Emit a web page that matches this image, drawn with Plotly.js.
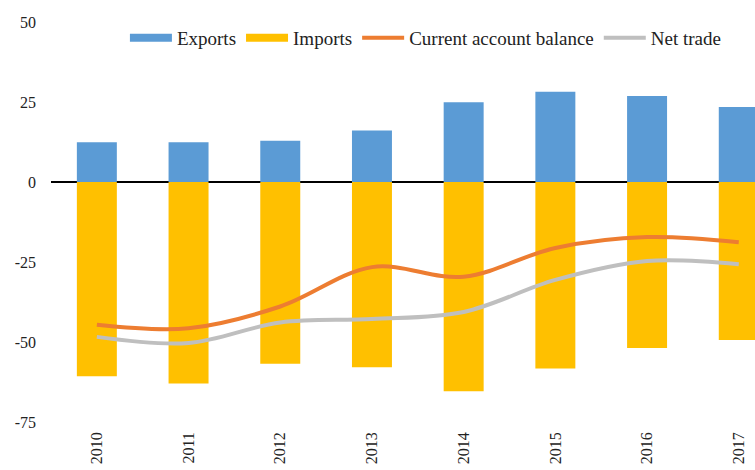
<!DOCTYPE html>
<html>
<head>
<meta charset="utf-8">
<script src="https://cdn.plot.ly/plotly-3.0.1.min.js"></script>
<style>
  html, body { margin: 0; padding: 0; background: #ffffff; }
  #chart { width: 755px; height: 470px; }
</style>
</head>
<body>
<div id="chart"></div>
<script>
// ---- data ----
const years = ["2010", "2011", "2012", "2013", "2014", "2015", "2016", "2017"];
const exportsVals = [12.4, 12.4, 12.9, 16.1, 24.9, 28.2, 26.9, 23.4];
const importsVals = [-60.7, -63.0, -56.8, -57.9, -65.4, -58.3, -51.9, -49.4];
const currentAccount = [-44.6, -45.7, -38.9, -26.6, -29.6, -20.6, -17.2, -18.8];
const netTrade = [-48.4, -50.3, -43.9, -42.8, -40.6, -30.6, -24.7, -25.7];
const yTickVals = [-75, -50, -25, 0, 25, 50];
const yTickText = ["-75", "-50", "-25", "0", "25", "50"];

const COL_EXP = "#5B9BD5";
const COL_IMP = "#FFC000";
const COL_CAB = "#ED7D31";
const COL_NET = "#BFBFBF";
const FONT = "'Liberation Serif', 'Times New Roman', serif";

const traces = [
  { type: "bar", x: years, y: exportsVals, name: "Exports", marker: { color: COL_EXP }, showlegend: false, legendgroup: "e" },
  { type: "bar", x: years, y: importsVals, name: "Imports", marker: { color: COL_IMP }, showlegend: false, legendgroup: "i" },
  // legend swatches (wide rectangles as in the reference)
  { type: "scatter", mode: "lines", x: [null], y: [null], name: "Exports", legendgroup: "e", line: { color: COL_EXP, width: 8 } },
  { type: "scatter", mode: "lines", x: [null], y: [null], name: "Imports", legendgroup: "i", line: { color: COL_IMP, width: 8 } },
  { type: "scatter", mode: "lines", x: years, y: currentAccount, name: "Current account balance",
    line: { color: COL_CAB, width: 4, shape: "spline", smoothing: 1 } },
  { type: "scatter", mode: "lines", x: years, y: netTrade, name: "Net trade",
    line: { color: COL_NET, width: 4, shape: "spline", smoothing: 1 } }
];

const layout = {
  width: 755, height: 470,
  margin: { l: 51, r: 0, t: 22, b: 48 },
  paper_bgcolor: "#ffffff", plot_bgcolor: "#ffffff",
  font: { family: FONT, size: 16, color: "#222222" },
  barmode: "relative",
  bargap: 0.564,
  showlegend: true,
  legend: {
    orientation: "h", x: 0.105, xanchor: "left", y: 0.96, yanchor: "middle",
    bgcolor: "rgba(0,0,0,0)", font: { family: FONT, size: 19, color: "#222222" },
    traceorder: "normal", itemwidth: 42
  },
  xaxis: {
    type: "category", range: [-0.5, 7.177], tickangle: -90,
    showgrid: false, showline: false, zeroline: false, ticks: "",
    ticklabelstandoff: 6,
    tickfont: { family: FONT, size: 16, color: "#222222" }
  },
  yaxis: {
    range: [-75, 50], tickvals: yTickVals, ticktext: yTickText,
    showgrid: false, showline: false, ticks: "",
    zeroline: true, zerolinecolor: "#000000", zerolinewidth: 1.5,
    ticklabelstandoff: 14,
    tickfont: { family: FONT, size: 16, color: "#222222" }
  }
};

Plotly.newPlot("chart", traces, layout, { staticPlot: true, displayModeBar: false });
</script>
</body>
</html>
